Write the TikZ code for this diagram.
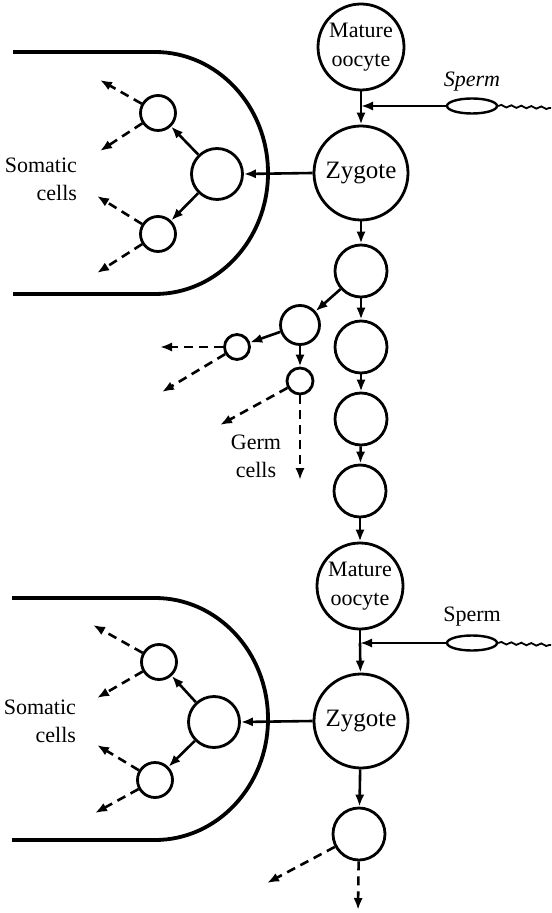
\documentclass[tikz,border=0pt]{standalone}
\usepackage{fontspec}
\setmainfont{Liberation Serif}
\usetikzlibrary{arrows.meta,decorations.pathmorphing,shapes.geometric}

\begin{document}
\begin{tikzpicture}[x=0.5pt,y=-0.5pt,
  cell/.style={circle,draw,line width=1.4pt,inner sep=0pt,align=center,font=\fontsize{11}{14.5}\selectfont},
  arr/.style={-{Latex[length=6pt,width=4.6pt]},line width=1.3pt},
  darr/.style={arr,dash pattern=on 4.5pt off 3pt},
  lbl/.style={align=right,font=\fontsize{11}{14}\selectfont},
  tail/.style={decorate,decoration={snake,amplitude=0.6pt,segment length=5pt},line width=0.9pt},
  wall/.style={line width=1.9pt}]
  \useasboundingbox (0,0) rectangle (551,913);

  % main line of descent
  \node[cell,minimum size=43pt] (oo1) at (361,47) {Mature\\oocyte};
  \node[cell,minimum size=47pt,font=\fontsize{12.5}{15}\selectfont] (zy1) at (361,173) {Zygote};
  \node[cell,minimum size=26pt] (c1) at (361,271) {};
  \node[cell,minimum size=26pt] (c2) at (361,347) {};
  \node[cell,minimum size=26pt] (c3) at (361,419) {};
  \node[cell,minimum size=26pt] (c4) at (360,491) {};
  \node[cell,minimum size=43pt] (oo2) at (360,586) {Mature\\oocyte};
  \node[cell,minimum size=47pt,font=\fontsize{12.5}{15}\selectfont] (zy2) at (361,721) {Zygote};
  \node[cell,minimum size=26pt] (c5) at (359,834) {};

  % sperm entry
  \coordinate (j1) at (361,106); \coordinate (j2) at (360,643);
  \node[ellipse,draw,line width=1.2pt,minimum width=25pt,minimum height=7.5pt,inner sep=0pt] (e1) at (472,106) {};
  \node[ellipse,draw,line width=1.2pt,minimum width=25pt,minimum height=7.5pt,inner sep=0pt] (e2) at (472,643) {};
  \node[font=\fontsize{11}{14}\selectfont\itshape] (sp1) at (472,82) {Sperm};
  \node[font=\fontsize{11}{14}\selectfont] (sp2) at (472,617) {Sperm};
  \coordinate (t1) at (551,108); \coordinate (t2) at (551,645);
  \draw[tail] (e1.east) -- (t1); \draw[tail] (e2.east) -- (t2);
  \draw[arr] (e1.west) -- (j1); \draw[arr] (e2.west) -- (j2);
  \draw[line width=1.3pt] (oo1) -- (j1); \draw[arr] (j1) -- (zy1);
  \draw[line width=1.3pt] (oo2) -- (j2); \draw[arr] (j2) -- (zy2);
  \draw[arr] (zy1) -- (c1); \draw[arr] (c1) -- (c2); \draw[arr] (c2) -- (c3); \draw[arr] (c3) -- (c4); \draw[arr] (c4) -- (oo2);
  \draw[arr] (zy2) -- (c5);

  % soma, first generation
  \draw[wall] (13,52) -- (155,52) arc[start angle=-90,end angle=90,x radius=113,y radius=121] -- (13,294);
  \node[cell,minimum size=25.5pt] (s1) at (217,174) {};
  \node[cell,minimum size=17.5pt] (a1) at (158,113) {};
  \node[cell,minimum size=17.5pt] (b1) at (158,234) {};
  \draw[arr] (zy1.west) -- (s1.east);
  \draw[arr] (s1) -- (a1); \draw[arr] (s1) -- (b1);
  \coordinate (a1u) at (100,80); \coordinate (a1d) at (100,151);
  \coordinate (b1u) at (97,196); \coordinate (b1d) at (97,273);
  \draw[darr] (a1) -- (a1u); \draw[darr] (a1) -- (a1d);
  \draw[darr] (b1) -- (b1u); \draw[darr] (b1) -- (b1d);
  \node[lbl,anchor=east] (som1) at (84,179) {Somatic\\cells};

  % germ line branch
  \node[cell,minimum size=19.5pt] (g1) at (300,325) {};
  \node[cell,minimum size=12.5pt] (g2) at (237,347) {};
  \node[cell,minimum size=13pt] (g3) at (300,381) {};
  \draw[arr] (c1) -- (g1); \draw[arr] (g1) -- (g2); \draw[arr] (g1) -- (g3);
  \coordinate (g2l) at (160,347); \coordinate (g2d) at (162,392);
  \coordinate (g3l) at (220,425); \coordinate (g3d) at (300,480);
  \draw[darr] (g2) -- (g2l); \draw[darr] (g2) -- (g2d);
  \draw[darr] (g3) -- (g3l); \draw[darr] (g3) -- (g3d);
  \node[align=center,font=\fontsize{11}{14}\selectfont] (germ) at (256,456) {Germ\\cells};

  % soma, second generation
  \draw[wall] (12,598) -- (155,598) arc[start angle=-90,end angle=90,x radius=113,y radius=121] -- (12,840);
  \node[cell,minimum size=25.5pt] (s2) at (214,722) {};
  \node[cell,minimum size=17.5pt] (a2) at (159,662) {};
  \node[cell,minimum size=17.5pt] (b2) at (155,780) {};
  \draw[arr] (zy2.west) -- (s2.east);
  \draw[arr] (s2) -- (a2); \draw[arr] (s2) -- (b2);
  \coordinate (a2u) at (93,625); \coordinate (a2d) at (97,698);
  \coordinate (b2u) at (97,745); \coordinate (b2d) at (95,813);
  \draw[darr] (a2) -- (a2u); \draw[darr] (a2) -- (a2d);
  \draw[darr] (b2) -- (b2u); \draw[darr] (b2) -- (b2d);
  \node[lbl,anchor=east] (som2) at (83,721) {Somatic\\cells};

  % next generation
  \coordinate (c5l) at (267,883); \coordinate (c5d) at (358,910);
  \draw[darr] (c5) -- (c5l); \draw[darr] (c5) -- (c5d);
\end{tikzpicture}
\end{document}
